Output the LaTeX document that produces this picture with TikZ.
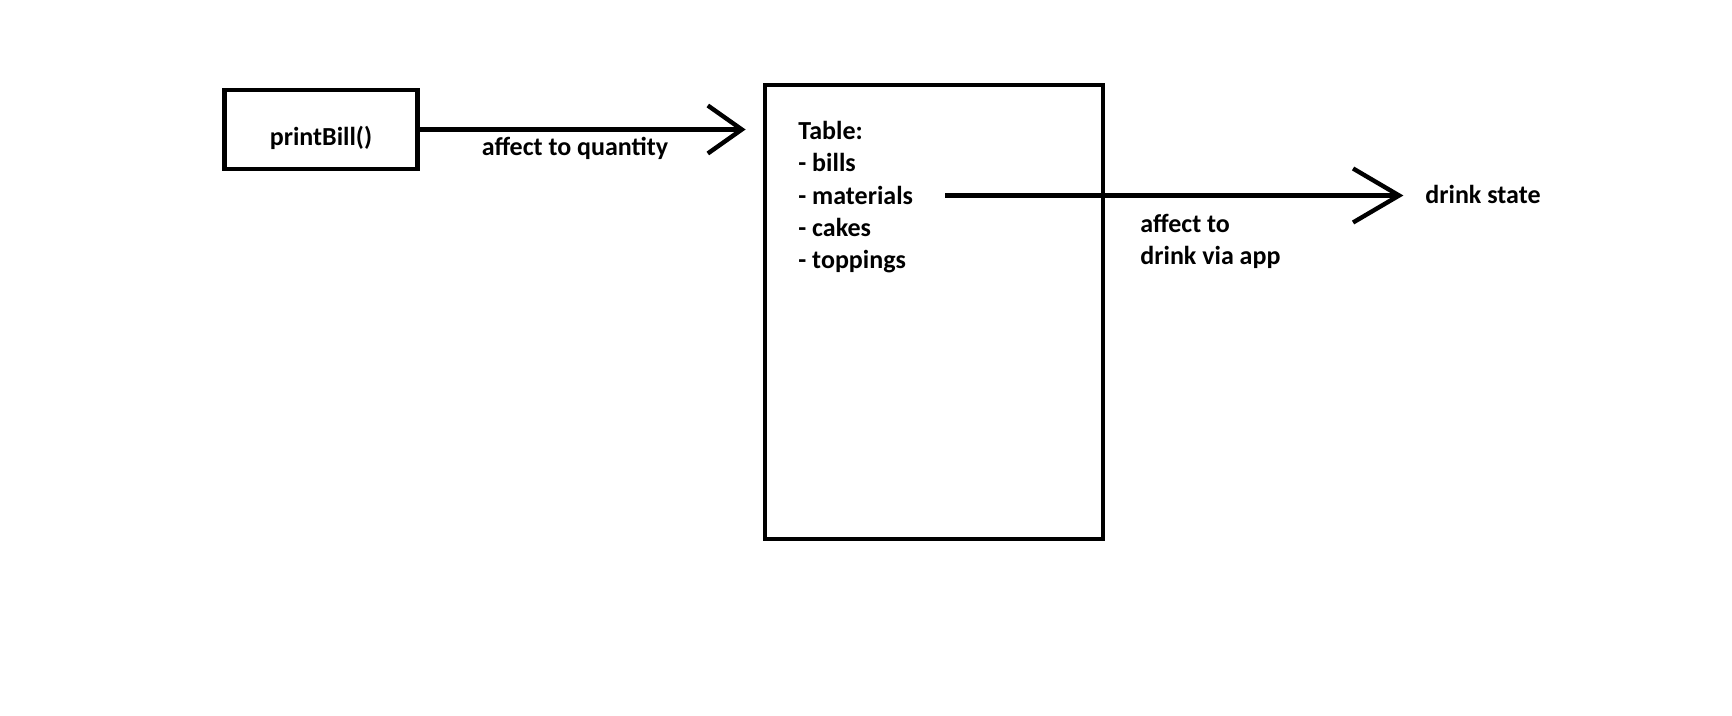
\documentclass[tikz,border=0pt]{standalone}
\usepackage{fontspec}
\setmainfont{Carlito}
\usetikzlibrary{arrows.meta}

\begin{document}
\begin{tikzpicture}[x=0.5pt,y=-0.5pt,
    box/.style={draw, line width=2.2pt, inner sep=0pt},
    flow/.style={line width=2.2pt},
    lbl/.style={inner sep=0pt, font=\fontsize{13}{16.2}\selectfont\bfseries}]
    \useasboundingbox (0,0) rectangle (1732,716);
    % boxes
    \node[box, minimum width=96.5pt, minimum height=39.5pt, lbl, text height=16pt, text depth=0pt] (bill) at (321,129.5) {printBill()};
    \node[box, minimum width=169pt, minimum height=227pt] (table) at (934,312) {};
    \node[lbl, anchor=base west, align=left] (list) at (798,269)
        {Table:\\- bills\\- materials\\- cakes\\- toppings};
    \node[lbl, anchor=base west] (state) at (1425,204) {drink state};
    \coordinate (matend) at (945,195.5);
    % arrows
    \draw[flow, -{Straight Barb[length=17pt,width=24pt]}, shorten >=8.6pt] (bill.east) -- (bill.east -| table.west);
    \draw[flow, -{Straight Barb[length=23pt,width=27pt]}, shorten >=10.8pt] (matend) -- (matend -| state.west);
    \node[lbl, anchor=base] (qty) at (575,156) {affect to quantity};
    \node[lbl, anchor=base west, align=left] (via) at (1140,265) {affect to\\drink via app};
\end{tikzpicture}
\end{document}
